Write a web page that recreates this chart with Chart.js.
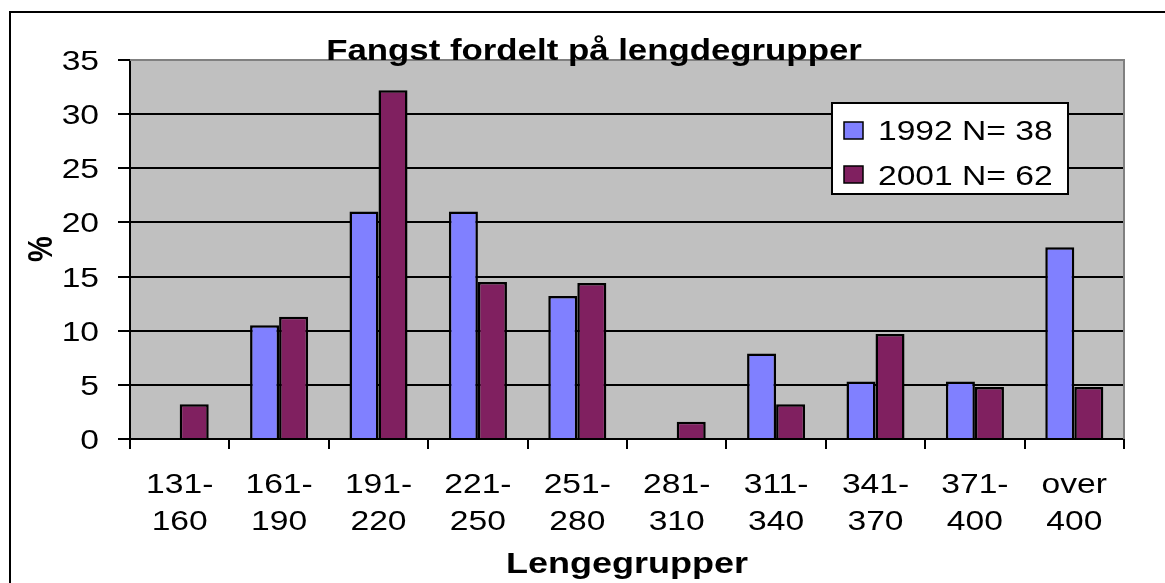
<!DOCTYPE html>
<html><head><meta charset="utf-8">
<script src="https://cdn.jsdelivr.net/npm/chart.js@4.4.0/dist/chart.umd.min.js"></script>
<style>html,body{margin:0;padding:0;background:#fff}#wrap{width:1165px;height:583px;position:relative}</style>
</head><body><div id="wrap"><canvas id="c"></canvas></div>
<script>
const categories = [["131-","160"],["161-","190"],["191-","220"],["221-","250"],["251-","280"],["281-","310"],["311-","340"],["341-","370"],["371-","400"],["over","400"]];
const series1992 = [0, 10.5, 21.0, 21.0, 13.2, 0, 7.9, 5.3, 5.3, 17.7];
const series2001 = [3.2, 11.3, 32.2, 14.5, 14.4, 1.6, 3.2, 9.7, 4.8, 4.8];
const seriesLabels = ["1992 N= 38", "2001 N= 62"];
const yTicks = [0, 5, 10, 15, 20, 25, 30, 35];
const chartTitle = "Fangst fordelt på lengdegrupper";
const xTitle = "Lengegrupper";
const yTitle = "%";

const COLORS = ["#8080FF", "#802060"];
const SX = 1.2;
const FONT = "'Liberation Sans', Arial, sans-serif";

function sText(ctx, txt, x, y, align, font) {
  ctx.save();
  ctx.font = font;
  ctx.textBaseline = 'alphabetic';
  ctx.textAlign = 'left';
  const w = ctx.measureText(txt).width * SX;
  const x0 = align === 'center' ? x - w / 2 : (align === 'right' ? x - w : x);
  ctx.translate(x0, y);
  ctx.scale(SX, 1);
  ctx.fillStyle = '#000';
  ctx.fillText(txt, 0, 0);
  ctx.restore();
}

const deco = {
  id: 'deco',
  beforeDraw(chart) {
    const ctx = chart.ctx, a = chart.chartArea;
    ctx.save();
    ctx.fillStyle = '#fff';
    ctx.fillRect(0, 0, chart.width, chart.height);
    ctx.fillStyle = '#C0C0C0';
    ctx.fillRect(a.left, a.top, a.right - a.left, a.bottom - a.top);
    ctx.restore();
  },
  afterDraw(chart) {
    const ctx = chart.ctx, a = chart.chartArea;
    const xs = chart.scales.x, ys = chart.scales.y;
    ctx.save();
    ctx.strokeStyle = '#808080';
    ctx.lineWidth = 2;
    ctx.beginPath();
    ctx.moveTo(a.left, a.top); ctx.lineTo(a.right, a.top); ctx.lineTo(a.right, a.bottom);
    ctx.stroke();
    ctx.restore();

    yTicks.forEach(v => {
      const y = ys.getPixelForValue(v);
      sText(ctx, String(v), 99, y + 10, 'right', `28px ${FONT}`);
    });
    categories.forEach((c, i) => {
      const x = xs.getPixelForValue(i);
      sText(ctx, c[0], x, 493, 'center', `28px ${FONT}`);
      sText(ctx, c[1], x, 530, 'center', `28px ${FONT}`);
    });
    sText(ctx, chartTitle, 594, 60, 'center', `bold 29px ${FONT}`);
    sText(ctx, xTitle, (a.left + a.right) / 2, 573, 'center', `bold 30px ${FONT}`);
    ctx.save();
    ctx.font = `bold 29px ${FONT}`;
    const w = ctx.measureText(yTitle).width;
    ctx.translate(39.5, 249);
    ctx.scale(SX, 1);
    ctx.rotate(-Math.PI / 2);
    ctx.textAlign = 'left';
    ctx.textBaseline = 'alphabetic';
    ctx.fillStyle = '#000';
    ctx.fillText(yTitle, -w / 2, 29 * 0.716 / 2);
    ctx.restore();

    ctx.save();
    ctx.fillStyle = '#fff';
    ctx.fillRect(832, 103, 236, 91);
    ctx.strokeStyle = '#000';
    ctx.lineWidth = 2;
    ctx.strokeRect(832, 103, 236, 91);
    const rows = [{sy: 122, ty: 140}, {sy: 166, ty: 185}];
    chart.data.datasets.forEach((ds, i) => {
      ctx.fillStyle = ds.backgroundColor;
      ctx.fillRect(844, rows[i].sy, 19, 17);
      ctx.lineWidth = 1.5;
      ctx.strokeStyle = '#000';
      ctx.strokeRect(844, rows[i].sy, 19, 17);
      sText(ctx, ds.label, 878, rows[i].ty, 'left', `28px ${FONT}`);
    });
    ctx.restore();

    ctx.save();
    ctx.strokeStyle = '#000';
    ctx.lineWidth = 2;
    ctx.beginPath();
    ctx.moveTo(10, chart.height); ctx.lineTo(10, 12); ctx.lineTo(chart.width, 12);
    ctx.stroke();
    ctx.restore();
  }
};

new Chart(document.getElementById('c'), {
  type: 'bar',
  data: {
    labels: categories.map(c => c.join(' ')),
    datasets: [
      { label: seriesLabels[0], data: series1992, backgroundColor: COLORS[0], borderColor: '#000', borderWidth: 2.5, categoryPercentage: 0.584, barPercentage: 1 },
      { label: seriesLabels[1], data: series2001, backgroundColor: COLORS[1], borderColor: '#000', borderWidth: 2.5, categoryPercentage: 0.584, barPercentage: 1 }
    ]
  },
  options: {
    responsive: true,
    maintainAspectRatio: false,
    animation: false,
    devicePixelRatio: 1,
    layout: { padding: { left: 118, top: 60, right: 41, bottom: 134 } },
    plugins: { legend: { display: false }, tooltip: { enabled: false }, title: { display: false } },
    scales: {
      x: {
        ticks: { display: false },
        grid: { offset: true, drawOnChartArea: false, drawTicks: true, tickLength: 10, color: '#000', lineWidth: 2 },
        border: { display: true, color: '#000', width: 2 }
      },
      y: {
        min: 0, max: 35,
        ticks: { display: false, stepSize: 5 },
        grid: { color: '#000', lineWidth: 2, drawTicks: true, tickLength: 12 },
        border: { display: true, color: '#000', width: 2 }
      }
    }
  },
  plugins: [deco]
});
</script>
</body></html>
